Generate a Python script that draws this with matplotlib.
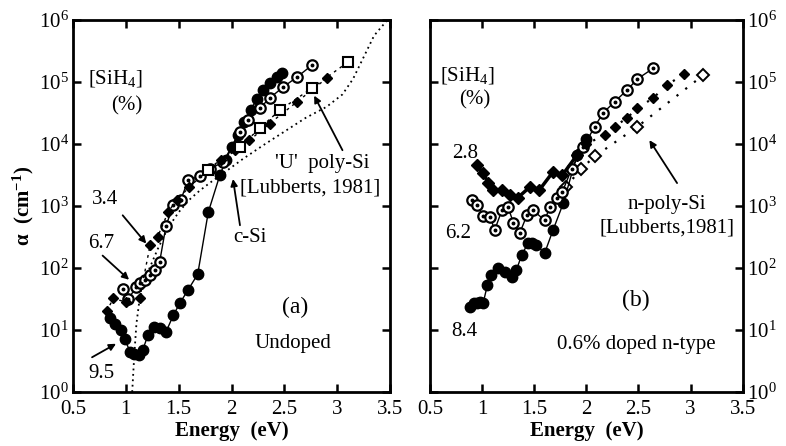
import numpy as np
import matplotlib
matplotlib.use('Agg')
import matplotlib.pyplot as plt
from matplotlib.ticker import LogFormatterMathtext, FixedLocator, NullLocator

plt.rcParams['font.family'] = 'Liberation Serif'
plt.rcParams['mathtext.fontset'] = 'custom'
plt.rcParams['mathtext.rm'] = 'Liberation Serif'
plt.rcParams['mathtext.it'] = 'Liberation Serif:italic'
plt.rcParams['mathtext.bf'] = 'Liberation Serif:bold'

# ---- (a) undoped ----
a95_E = [0.85, 0.9, 0.95, 0.99, 1.04, 1.08, 1.12, 1.16, 1.21, 1.27, 1.32, 1.38, 1.45, 1.51, 1.59, 1.68,
         1.78, 1.89, 1.95, 2.0, 2.06, 2.12, 2.18, 2.24, 2.3, 2.36, 2.43, 2.48]
a95_log = [1.2, 1.1, 1.0, 0.85, 0.65, 0.62, 0.6, 0.68, 0.92, 1.05, 1.03, 0.97, 1.24, 1.43, 1.65, 1.9,
           2.9, 3.5, 3.75, 3.95, 4.15, 4.35, 4.55, 4.72, 4.87, 4.98, 5.08, 5.15]

a67_E = [0.97, 1.02, 1.1, 1.13, 1.18, 1.23, 1.28, 1.32, 1.38, 1.45, 1.52, 1.59, 1.7, 1.8, 1.92, 2.08,
         2.16, 2.27, 2.36, 2.49, 2.62, 2.76]
a67_log = [1.66, 1.5, 1.69, 1.76, 1.81, 1.89, 1.97, 2.1, 2.68, 3.02, 3.1, 3.42, 3.48, 3.6, 3.71, 4.19,
           4.39, 4.58, 4.74, 4.92, 5.08, 5.27]

a34_E = [0.82, 0.88, 1.0, 1.13, 1.23, 1.3, 1.4, 1.48, 1.6, 1.77, 1.9, 2.03, 2.17, 2.36, 2.62, 2.9]
a34_log = [1.3, 1.51, 1.45, 1.51, 2.37, 2.5, 2.9, 3.1, 3.3, 3.58, 3.75, 3.9, 4.06, 4.33, 4.68, 5.06]

upoly_E = [1.78, 2.08, 2.27, 2.46, 2.76, 3.1]
upoly_log = [3.58, 3.95, 4.26, 4.55, 4.9, 5.32]

csi_E = [1.06, 1.08, 1.1, 1.13, 1.2, 1.3, 1.4, 1.5, 1.6, 1.7, 1.8, 1.9, 2.1, 2.3, 2.5, 2.7, 2.9,
         3.05, 3.15, 3.25, 3.35, 3.45, 3.5]
csi_log = [0.0, 0.6, 1.1, 1.5, 1.9, 2.3, 2.65, 2.9, 3.1, 3.25, 3.38, 3.5, 3.75, 3.98, 4.2, 4.42, 4.6,
           4.8, 5.05, 5.4, 5.75, 5.95, 6.05]

# ---- (b) 0.6% doped n-type ----
b28_E = [0.95, 1.01, 1.06, 1.1, 1.19, 1.27, 1.34, 1.46, 1.55, 1.68, 1.77, 1.91, 2.0, 2.18, 2.27, 2.39,
         2.49, 2.64, 2.77, 2.94]
b28_log = [3.66, 3.53, 3.37, 3.26, 3.26, 3.18, 3.13, 3.31, 3.26, 3.55, 3.5, 3.82, 4.0, 4.15, 4.28, 4.42,
           4.58, 4.74, 4.95, 5.13]

b62_E = [0.9, 0.95, 1.01, 1.08, 1.12, 1.19, 1.25, 1.3, 1.36, 1.43, 1.49, 1.6, 1.65, 1.72, 1.77, 1.86,
         1.97, 2.08, 2.16, 2.27, 2.39, 2.49, 2.64]
b62_log = [3.1, 3.02, 2.84, 2.82, 2.61, 2.93, 2.98, 2.73, 2.56, 2.85, 2.93, 2.77, 2.98, 3.13, 3.23, 3.6,
           3.95, 4.28, 4.5, 4.68, 4.87, 5.05, 5.22]

b84_E = [0.88, 0.92, 0.95, 0.98, 1.01, 1.05, 1.09, 1.15, 1.22, 1.29, 1.33, 1.38, 1.44, 1.48, 1.52, 1.6,
         1.68, 1.78, 1.91, 2.0]
b84_log = [1.37, 1.43, 1.43, 1.45, 1.43, 1.72, 1.89, 2.0, 1.94, 1.86, 1.97, 2.21, 2.4, 2.4, 2.37, 2.24,
           2.61, 3.05, 3.82, 4.08]

npoly_E = [1.8, 1.95, 2.08, 2.49, 3.12]
npoly_log = [3.3, 3.6, 3.8, 4.28, 5.11]

xticks = [0.5, 1, 1.5, 2, 2.5, 3, 3.5]
xticklabels = ['0.5', '1', '1.5', '2', '2.5', '3', '3.5']

ARROW = dict(arrowstyle='-|>', color='k', lw=1.3, shrinkA=0, shrinkB=2)


def pw(vals):
    return 10 ** np.asarray(vals)


def odot(ax, E, lg, ls='-'):
    ax.plot(E, pw(lg), ls=ls, color='k', lw=1.0, marker='o', ms=7.5, mfc='white', mec='k', mew=1.6)
    ax.plot(E, pw(lg), ls='none', marker='o', ms=1.8, color='k')


def arrow(ax, x0, l0, x1, l1):
    ax.annotate('', xy=(x1, 10 ** l1), xytext=(x0, 10 ** l0), arrowprops=ARROW)


def style(ax):
    ax.set_yscale('log')
    ax.set_xlim(0.5, 3.5)
    ax.set_ylim(1, 1e6)
    ax.xaxis.set_major_locator(FixedLocator(xticks))
    ax.set_xticklabels(xticklabels, fontsize=15)
    ax.yaxis.set_major_locator(FixedLocator([10.0 ** k for k in range(7)]))
    ax.yaxis.set_minor_locator(NullLocator())
    ax.yaxis.set_major_formatter(LogFormatterMathtext())
    ax.tick_params(which='both', direction='in', top=True, right=True, length=6, width=1.8,
                   labelsize=15, pad=3)
    ax.tick_params(axis='x', pad=6)
    for s in ax.spines.values():
        s.set_linewidth(2.0)
    ax.set_xlabel('Energy  (eV)', fontsize=15, fontweight='bold', labelpad=1)


fig = plt.figure(figsize=(7.86, 4.46), dpi=100)
axa = fig.add_axes([0.0929, 0.1211, 0.4033, 0.834])
axb = fig.add_axes([0.547, 0.1211, 0.398, 0.834])

# panel (a)
axa.plot(csi_E, pw(csi_log), ls=(0, (1, 2)), color='k', lw=1.3)
axa.plot(a95_E, pw(a95_log), '-', color='k', lw=1.0, marker='o', ms=7.5, mfc='k', mec='k')
odot(axa, a67_E, a67_log)
axa.plot(a34_E, pw(a34_log), ls=(0, (2, 3)), color='k', lw=1.0, marker='D', ms=5, mfc='k', mec='k')
axa.plot(upoly_E, pw(upoly_log), ls=(0, (2, 3)), color='k', lw=1.0, marker='s', ms=7,
         mfc='white', mec='k', mew=1.5)
style(axa)
axa.set_ylabel(r'$\mathbf{\alpha}$  (cm$^{\mathbf{-1}}$)', fontsize=15, fontweight='bold', labelpad=2)

axa.text(0.64, 10 ** 5.05, r'[SiH$_4$]', fontsize=15, ha='left', va='center')
axa.text(0.86, 10 ** 4.62, '(%)', fontsize=15, ha='left', va='center')
axa.text(0.80, 10 ** 3.1, '3.4', fontsize=15, ha='center', va='center')
arrow(axa, 0.97, 2.85, 1.21, 2.36)
axa.text(0.77, 10 ** 2.4, '6.7', fontsize=15, ha='center', va='center')
arrow(axa, 0.78, 2.2, 1.05, 1.78)
axa.text(0.77, 10 ** 0.3, '9.5', fontsize=15, ha='center', va='center')
arrow(axa, 0.68, 0.56, 0.93, 0.8)
axa.text(2.86, 10 ** 3.69, "'U'  poly-Si", fontsize=15, ha='center', va='center')
axa.text(2.74, 10 ** 3.29, '[Lubberts, 1981]', fontsize=15, ha='center', va='center')
arrow(axa, 3.05, 3.9, 2.77, 4.82)
axa.text(2.17, 10 ** 2.5, 'c-Si', fontsize=15, ha='center', va='center')
arrow(axa, 2.08, 2.69, 2.01, 3.48)
axa.text(2.6, 10 ** 1.37, '(a)', fontsize=17, ha='center', va='center')
axa.text(2.58, 10 ** 0.79, 'Undoped', fontsize=15, ha='center', va='center')

# panel (b)
axb.plot(npoly_E, pw(npoly_log), ls=(0, (1, 4)), color='k', lw=1.6, marker='D', ms=6.5,
         mfc='white', mec='k', mew=1.4)
axb.plot(b84_E, pw(b84_log), '-', color='k', lw=1.0, marker='o', ms=7.5, mfc='k', mec='k')
odot(axb, b62_E, b62_log)
axb.plot(b28_E[:12], pw(b28_log[:12]), '-', color='k', lw=2.5, marker='D', ms=6, mfc='k', mec='k')
axb.plot(b28_E[11:], pw(b28_log[11:]), ls=(0, (1, 4)), color='k', lw=1.6, marker='D', ms=5,
         mfc='k', mec='k')
style(axb)
axb.yaxis.tick_right()
axb.tick_params(which='both', left=True, right=True, labelleft=False, labelright=True)

axb.text(0.6, 10 ** 5.1, r'[SiH$_4$]', fontsize=15, ha='left', va='center')
axb.text(0.78, 10 ** 4.72, '(%)', fontsize=15, ha='left', va='center')
axb.text(0.84, 10 ** 3.85, '2.8', fontsize=15, ha='center', va='center')
axb.text(0.77, 10 ** 2.56, '6.2', fontsize=15, ha='center', va='center')
axb.text(0.83, 10 ** 0.97, '8.4', fontsize=15, ha='center', va='center')
axb.text(2.77, 10 ** 3.02, 'n-poly-Si', fontsize=15, ha='center', va='center')
axb.text(2.77, 10 ** 2.65, '[Lubberts,1981]', fontsize=15, ha='center', va='center')
arrow(axb, 2.87, 3.37, 2.59, 4.1)
axb.text(2.47, 10 ** 1.48, '(b)', fontsize=17, ha='center', va='center')
axb.text(2.48, 10 ** 0.76, '0.6% doped n-type', fontsize=15, ha='center', va='center')

fig.savefig('out.png', dpi=100)
